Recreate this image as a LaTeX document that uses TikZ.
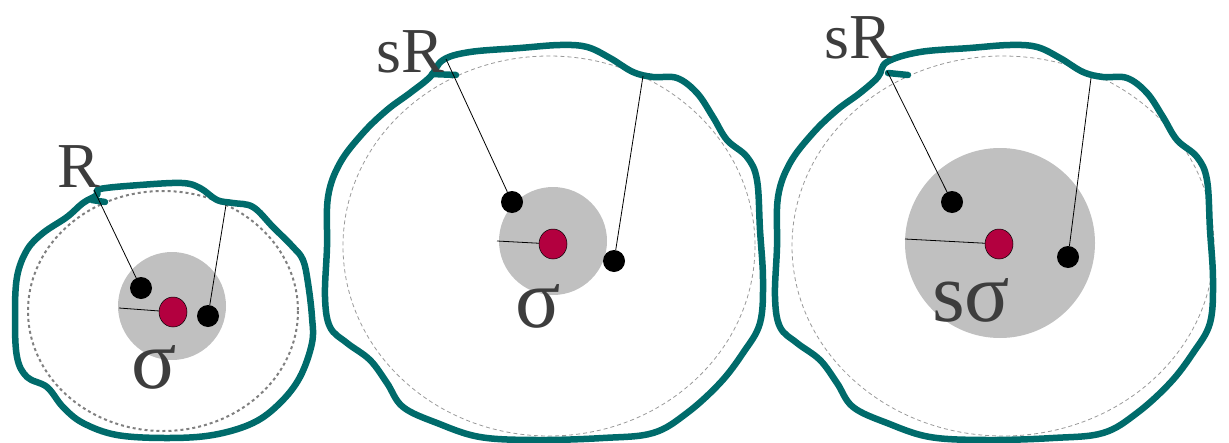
\documentclass[tikz,border=0pt]{standalone}
\usepackage{fontspec}
\setmainfont{Liberation Serif}
\usetikzlibrary{shapes.geometric}
\definecolor{cellteal}{HTML}{006B6B}
\definecolor{nucred}{HTML}{B3003F}
\definecolor{labgray}{HTML}{3D3D3D}
\definecolor{diskgray}{HTML}{C0C0C0}
\tikzset{
  membrane/.style={draw=cellteal, line width=6.5pt, line cap=round, line join=round},
  refcircle/.style={draw=gray!80, line width=0.8pt, dash pattern=on 4pt off 3pt},
  refcirclebold/.style={draw=gray, line width=2pt, dash pattern=on 3pt off 3pt},
  disk/.style={fill=diskgray, draw=none},
  nucleus/.style={ellipse, draw=black, line width=0.5pt, fill=nucred, minimum width=28pt, minimum height=30pt, inner sep=0pt},
  particle/.style={circle, fill=black, minimum size=22pt, inner sep=0pt},
  tether/.style={draw=black, line width=0.8pt},
  biglabel/.style={text=labgray, inner sep=0pt, anchor=base, font=\fontsize{64}{64}\selectfont},
  siglabel/.style={text=labgray, inner sep=0pt, anchor=base, font=\fontsize{84}{84}\selectfont}
}
\begin{document}
\begin{tikzpicture}[x=1pt,y=-1pt]
\useasboundingbox (0,0) rectangle (1229,442);
% ---------- panel 1 ----------
\draw[refcirclebold] (163,311) ellipse [x radius=135, y radius=120];
\fill[disk] (172,306) circle (54);
\draw[membrane] plot[smooth cycle, tension=0.6] coordinates {
(97,195) (100,189) (140,185) (182,183) (200,188) (217,200) (233,203) (253,207)
(273,227) (293,247) (303,260) (308,283) (312,317) (312,343) (300,377) (280,403)
(253,423) (213,435) (167,438) (117,435) (83,423) (63,407) (47,387) (27,377)
(17,357) (15,317) (17,277) (27,250) (43,233) (67,217) (83,203)};
\draw[membrane] (92,200) -- (105,202);
\coordinate (m1a) at (94,190);
\coordinate (m1b) at (226,205);
\coordinate (n1s) at (119,308);
\node[nucleus] (n1) at (173,312) {};
\node[particle] (p1a) at (141,288) {};
\node[particle] (p1b) at (208,316) {};
\draw[tether] (m1a) -- (p1a);
\draw[tether] (m1b) -- (p1b);
\draw[tether] (n1s) -- (n1);
\node[biglabel] (l1r) at (79,187) {R};
\node[siglabel] (l1s) at (154,388) {σ};
% ---------- panel 2 ----------
\draw[refcircle] (549,246) ellipse [x radius=206, y radius=190];
\fill[disk] (553,241) circle (54);
\draw[membrane] plot[smooth cycle, tension=0.6] coordinates {
(443,60) (470,52) (520,48) (560,45) (587,47) (610,58) (633,72) (653,77) (677,78)
(697,93) (713,117) (727,140) (747,157) (757,180) (760,230) (763,280) (760,323)
(743,353) (720,383) (687,413) (653,433) (603,438) (537,440) (480,437) (437,423)
(403,407) (387,383) (370,360) (347,343) (330,327) (325,297) (327,247) (328,197)
(340,163) (363,133) (387,110) (410,93) (430,77)};
\draw[membrane] (432,74) -- (456,75);
\coordinate (m2a) at (446,59);
\coordinate (m2b) at (643,76);
\coordinate (n2s) at (497,241);
\node[nucleus] (n2) at (553,244) {};
\node[particle] (p2a) at (512,202) {};
\node[particle] (p2b) at (614,261) {};
\draw[tether] (m2a) -- (p2a);
\draw[tether] (m2b) -- (p2b);
\draw[tether] (n2s) -- (n2);
\node[biglabel] (l2r) at (410,72) {sR};
\node[siglabel] (l2s) at (538,327) {σ};
% ---------- panel 3 ----------
\draw[refcircle] (1003,246) ellipse [x radius=211, y radius=190];
\fill[disk] (1000,243) circle (95);
\begin{scope}[xshift=450pt]
\draw[membrane] plot[smooth cycle, tension=0.6] coordinates {
(437,62) (470,52) (520,48) (560,45) (587,47) (610,58) (633,72) (653,77) (677,78)
(697,93) (713,117) (727,140) (747,157) (757,180) (760,230) (763,280) (760,323)
(743,353) (720,383) (687,413) (653,433) (603,438) (537,440) (480,437) (437,423)
(403,407) (387,383) (370,360) (347,343) (330,327) (325,297) (327,247) (328,197)
(340,163) (363,133) (387,110) (410,93) (428,77)};
\draw[membrane] (438,73) -- (458,75);
\end{scope}
\coordinate (m3a) at (887,71);
\coordinate (m3b) at (1091,78);
\coordinate (n3s) at (905,239);
\node[nucleus] (n3) at (999,244) {};
\node[particle] (p3a) at (952,202) {};
\node[particle] (p3b) at (1068,257) {};
\draw[tether] (m3a) -- (p3a);
\draw[tether] (m3b) -- (p3b);
\draw[tether] (n3s) -- (n3);
\node[biglabel] (l3r) at (858,58) {sR};
\node[siglabel] (l3s) at (971,321) {sσ};
\end{tikzpicture}
\end{document}
